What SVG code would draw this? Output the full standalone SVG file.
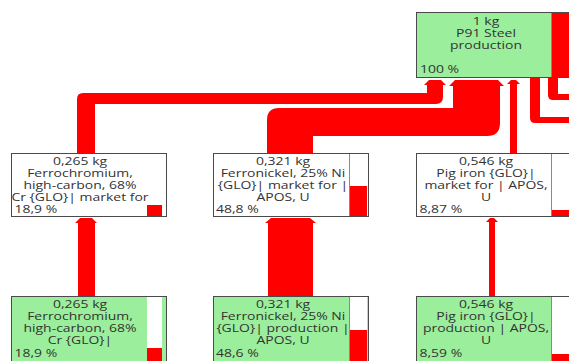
<svg xmlns="http://www.w3.org/2000/svg" width="569" height="361" viewBox="0 0 569 361">
  <style>
    .flow { fill: #ff0000; }
    .box { stroke: #4a4a4a; stroke-width: 1; }
    .proc { fill: #9bee9b; }
    .mkt { fill: #ffffff; }
    .bar { fill: #ffffff; }
    .barline { stroke: #8a8a8a; stroke-width: 1; }
    .val { fill: #ff0000; }
    text { font-family: "Open Sans", "Noto Sans", "DejaVu Sans", sans-serif; font-size: 11px; fill: #333333; }
    .c { text-anchor: middle; }
  </style>

  <!-- flows between processes -->
  <g id="connectors">
    <!-- Ferrochromium market -> P91 Steel -->
    <path class="flow" d="M77,153 V99 Q77,93 83,93 H427 V85 H424 L429,80 H441 L446,85 H443 V97 Q443,104 436,104 H95 V153 Z"/>
    <!-- Ferronickel market -> P91 Steel -->
    <path class="flow" d="M267,153 V120 Q267,108 279,108 H453 V86 H449 L455,80 H498 L504,86 H500 V123 Q500,136 487,136 H313 V153 Z"/>
    <!-- Pig iron market -> P91 Steel -->
    <path class="flow" d="M510,153 V84 H507 L511,80 H516 L520,84 H517 V153 Z"/>
    <!-- flows entering from the right -->
    <path class="flow" d="M548,78 V95 Q548,100 553,100 H569 V94 H558 V78 Z"/>
    <path class="flow" d="M530,78 V118 Q530,123 535,123 H569 V117 H540 V78 Z"/>
    <!-- production -> market -->
    <path class="flow" d="M78,296 V223 H75 L80,218 H92 L97,223 H95 V296 Z"/>
    <path class="flow" d="M268,296 V223 H265 L271,218 H310 L316,223 H313 V296 Z"/>
    <path class="flow" d="M489,296 V222 H486 L490,218 H494 L498,222 H495 V296 Z"/>
  </g>

  <!-- P91 Steel production -->
  <g id="n-steel">
    <rect class="box proc" x="416.5" y="12.5" width="155" height="65"/>
    <rect class="val" x="552" y="13" width="17" height="64"/>
    <line class="barline" x1="551.5" y1="13" x2="551.5" y2="77"/>
    <g transform="translate(486 0) scale(1.27 1)">
      <text class="c" x="0" y="25">1 kg</text>
      <text class="c" x="0" y="37">P91 Steel</text>
      <text class="c" x="0" y="49">production</text>
    </g>
    <g transform="translate(420 0) scale(1.27 1)"><text x="0" y="73">100 %</text></g>
  </g>

  <!-- Ferrochromium market -->
  <g id="n-fecr-market">
    <rect class="box mkt" x="11.5" y="153.5" width="155" height="63"/>
    <rect class="val" x="147" y="205" width="15" height="11"/>
    <g transform="translate(80 0) scale(1.27 1)">
      <text class="c" x="0" y="165">0,265 kg</text>
      <text class="c" x="0" y="177">Ferrochromium,</text>
      <text class="c" x="0" y="189">high-carbon, 68%</text>
      <text class="c" x="0" y="201">Cr {GLO}| market for</text>
    </g>
    <g transform="translate(14.5 0) scale(1.27 1)"><text x="0" y="213">18,9 %</text></g>
  </g>

  <!-- Ferronickel market -->
  <g id="n-feni-market">
    <rect class="box mkt" x="213.5" y="153.5" width="155" height="63"/>
    <line class="barline" x1="349.5" y1="154" x2="349.5" y2="216"/>
    <rect class="val" x="350" y="186" width="17" height="30"/>
    <g transform="translate(283 0) scale(1.27 1)">
      <text class="c" x="0" y="165">0,321 kg</text>
      <text class="c" x="0" y="177">Ferronickel, 25% Ni</text>
      <text class="c" x="0" y="189">{GLO}| market for |</text>
      <text class="c" x="0" y="201">APOS, U</text>
    </g>
    <g transform="translate(216 0) scale(1.27 1)"><text x="0" y="213">48,8 %</text></g>
  </g>

  <!-- Pig iron market -->
  <g id="n-pig-market">
    <rect class="box mkt" x="416.5" y="153.5" width="155" height="63"/>
    <line class="barline" x1="551.5" y1="154" x2="551.5" y2="216"/>
    <rect class="val" x="552" y="210" width="17" height="6"/>
    <g transform="translate(486 0) scale(1.27 1)">
      <text class="c" x="0" y="165">0,546 kg</text>
      <text class="c" x="0" y="177">Pig iron {GLO}|</text>
      <text class="c" x="0" y="189">market for | APOS,</text>
      <text class="c" x="0" y="201">U</text>
    </g>
    <g transform="translate(419.5 0) scale(1.27 1)"><text x="0" y="213">8,87 %</text></g>
  </g>

  <!-- Ferrochromium production -->
  <g id="n-fecr-prod">
    <rect class="box proc" x="11.5" y="296.5" width="155" height="70"/>
    <rect class="bar" x="147" y="297" width="15" height="70"/>
    <rect class="val" x="147" y="348" width="15" height="19"/>
    <g transform="translate(80 0) scale(1.27 1)">
      <text class="c" x="0" y="308">0,265 kg</text>
      <text class="c" x="0" y="320">Ferrochromium,</text>
      <text class="c" x="0" y="332">high-carbon, 68%</text>
      <text class="c" x="0" y="344">Cr {GLO}|</text>
    </g>
    <g transform="translate(14.5 0) scale(1.27 1)"><text x="0" y="357">18,9 %</text></g>
  </g>

  <!-- Ferronickel production -->
  <g id="n-feni-prod">
    <rect class="box proc" x="213.5" y="296.5" width="155" height="70"/>
    <rect class="bar" x="350" y="297" width="17" height="70"/>
    <line class="barline" x1="349.5" y1="297" x2="349.5" y2="367"/>
    <rect class="val" x="350" y="330" width="17" height="37"/>
    <g transform="translate(283 0) scale(1.27 1)">
      <text class="c" x="0" y="308">0,321 kg</text>
      <text class="c" x="0" y="320">Ferronickel, 25% Ni</text>
      <text class="c" x="0" y="332">{GLO}| production |</text>
      <text class="c" x="0" y="344">APOS, U</text>
    </g>
    <g transform="translate(216 0) scale(1.27 1)"><text x="0" y="357">48,6 %</text></g>
  </g>

  <!-- Pig iron production -->
  <g id="n-pig-prod">
    <rect class="box proc" x="416.5" y="296.5" width="155" height="70"/>
    <rect class="bar" x="552" y="297" width="17" height="70"/>
    <line class="barline" x1="551.5" y1="297" x2="551.5" y2="367"/>
    <rect class="val" x="552" y="354" width="17" height="13"/>
    <g transform="translate(486 0) scale(1.27 1)">
      <text class="c" x="0" y="308">0,546 kg</text>
      <text class="c" x="0" y="320">Pig iron {GLO}|</text>
      <text class="c" x="0" y="332">production | APOS,</text>
      <text class="c" x="0" y="344">U</text>
    </g>
    <g transform="translate(419.5 0) scale(1.27 1)"><text x="0" y="357">8,59 %</text></g>
  </g>
</svg>
